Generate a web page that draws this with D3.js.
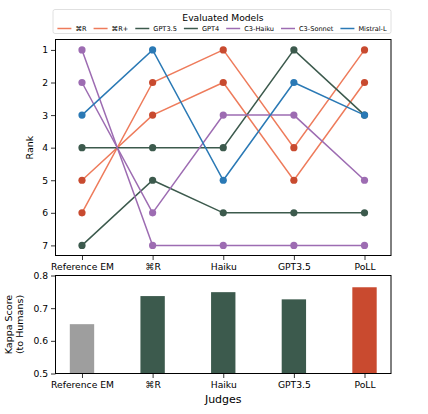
<!DOCTYPE html>
<html>
<head>
<meta charset="utf-8">
<script src="https://cdn.jsdelivr.net/npm/d3@7"></script>
<style>
  body { margin: 0; background: #fff; }
  svg { font-family: "DejaVu Sans", sans-serif; }
</style>
</head>
<body>
<script>
// judges on the x axis
const judges = ["Reference EM", "\u2318R", "Haiku", "GPT3.5", "PoLL"];

// evaluated models (legend order)
const models = ["\u2318R", "\u2318R+", "GPT3.5", "GPT4", "C3-Haiku", "C3-Sonnet", "Mistral-L"];

// rank each judge gives each model
const rankCmdR = [5, 3, 2, 5, 2];
const rankCmdRPlus = [6, 2, 1, 4, 1];
const rankGPT35 = [7, 5, 6, 6, 6];
const rankGPT4 = [4, 4, 4, 1, 3];
const rankC3Haiku = [1, 7, 7, 7, 7];
const rankC3Sonnet = [2, 6, 3, 3, 5];
const rankMistralL = [3, 1, 5, 2, 3];

const rankTicks = [1, 2, 3, 4, 5, 6, 7];

// kappa score of each judge vs humans
const kappa = [0.651, 0.737, 0.749, 0.727, 0.764];
const kappaTicks = [0.5, 0.6, 0.7, 0.8];

init();

function init() {
  const width = 428, height = 414;
  const lineColors = ["#ee7b5b", "#ee7b5b", "#3c5a4d", "#3c5a4d", "#9d6cb2", "#9d6cb2", "#2a79b5"];
  const dotColors  = ["#c84a2f", "#c84a2f", "#3c5a4d", "#3c5a4d", "#9d6cb2", "#9d6cb2", "#2a79b5"];
  const barColors  = ["#9e9e9e", "#3c5a4d", "#3c5a4d", "#3c5a4d", "#c94a2f"];

  const ranks = [rankCmdR, rankCmdRPlus, rankGPT35, rankGPT4, rankC3Haiku, rankC3Sonnet, rankMistralL];

  let svg = d3.select("body")
              .append("svg")
              .attr("width", width)
              .attr("height", height);

  const left = 55.5, right = 391;
  const top1 = {t: 39.5, b: 255.5};
  const top2 = {t: 275.5, b: 373.5};

  let x = d3.scalePoint().domain(judges).range([left, right]).padding(0.375);

  // ---- rank chart
  let y = d3.scaleLinear().domain([0.68, 7.31]).range([top1.t, top1.b]);

  let g1 = svg.append("g");

  let lineGen = d3.line().x((d, i) => x(judges[i])).y(d => y(d));

  ranks.forEach((r, k) => {
    g1.append("path")
      .attr("d", lineGen(r))
      .attr("fill", "none")
      .attr("stroke", lineColors[k])
      .attr("stroke-width", 1.5);
  });
  ranks.forEach((r, k) => {
    g1.selectAll(null)
      .data(r)
      .enter()
      .append("circle")
      .attr("cx", (d, i) => x(judges[i]))
      .attr("cy", d => y(d))
      .attr("r", 3.6)
      .attr("fill", dotColors[k]);
  });

  g1.append("g")
    .attr("transform", `translate(0,${top1.b})`)
    .call(d3.axisBottom(x).tickSizeOuter(0).tickSize(4.5).tickPadding(3))
    .call(styleAxis);
  g1.append("g")
    .attr("transform", `translate(${left},0)`)
    .call(d3.axisLeft(y).tickValues(rankTicks).tickFormat(d3.format("d")).tickSize(4.5).tickPadding(3))
    .call(styleAxis);

  g1.append("rect")
    .attr("x", left).attr("y", top1.t)
    .attr("width", right - left).attr("height", top1.b - top1.t)
    .attr("fill", "none").attr("stroke", "#000").attr("stroke-width", 1);

  g1.append("text")
    .attr("transform", `translate(33,${(top1.t + top1.b) / 2}) rotate(-90)`)
    .attr("text-anchor", "middle")
    .attr("font-size", 9.5)
    .text("Rank");

  // legend
  let leg = svg.append("g");
  leg.append("rect")
    .attr("x", 53).attr("y", 9.5).attr("width", 338).attr("height", 24)
    .attr("rx", 2).attr("fill", "#fff").attr("stroke", "#d8d8d8").attr("stroke-width", 0.8);
  leg.append("text")
    .attr("x", 223).attr("y", 20.5).attr("text-anchor", "middle")
    .attr("font-size", 9.2).text("Evaluated Models");

  // lay entries out from their measured text widths
  const handleW = 14, handleGap = 4, entryGap = 7;
  let entries = models.map((m, k) => {
    let eg = leg.append("g");
    eg.append("line")
      .attr("x1", 0).attr("x2", handleW)
      .attr("y1", 28.5).attr("y2", 28.5)
      .attr("stroke", lineColors[k]).attr("stroke-width", 1.5);
    let t = eg.append("text")
      .attr("x", handleW + handleGap).attr("y", 30.8)
      .attr("font-size", 6.6).text(m);
    return {g: eg, w: handleW + handleGap + t.node().getComputedTextLength()};
  });
  let total = d3.sum(entries, e => e.w) + entryGap * (entries.length - 1);
  let cx = 222 - total / 2;
  entries.forEach(e => {
    e.g.attr("transform", `translate(${cx},0)`);
    cx += e.w + entryGap;
  });

  // ---- kappa chart
  let yk = d3.scaleLinear().domain([0.5, 0.8]).range([top2.b, top2.t]);
  const barW = x.step() * 0.345;

  let g2 = svg.append("g");
  g2.selectAll(".bar")
    .data(kappa)
    .enter()
    .append("rect")
    .attr("class", "bar")
    .attr("x", (d, i) => x(judges[i]) - barW / 2)
    .attr("y", d => yk(d))
    .attr("width", barW)
    .attr("height", d => yk(0.5) - yk(d))
    .attr("fill", (d, i) => barColors[i]);

  g2.append("g")
    .attr("transform", `translate(0,${top2.b})`)
    .call(d3.axisBottom(x).tickSizeOuter(0).tickSize(4.5).tickPadding(3))
    .call(styleAxis);
  g2.append("g")
    .attr("transform", `translate(${left},0)`)
    .call(d3.axisLeft(yk).tickValues(kappaTicks).tickFormat(d3.format(".1f")).tickSize(4.5).tickPadding(3))
    .call(styleAxis);

  g2.append("rect")
    .attr("x", left).attr("y", top2.t)
    .attr("width", right - left).attr("height", top2.b - top2.t)
    .attr("fill", "none").attr("stroke", "#000").attr("stroke-width", 1);

  let yl = g2.append("text")
    .attr("transform", `translate(12,${(top2.t + top2.b) / 2}) rotate(-90)`)
    .attr("text-anchor", "middle")
    .attr("font-size", 9.5);
  yl.append("tspan").attr("x", 0).attr("dy", 0).text("Kappa Score");
  yl.append("tspan").attr("x", 0).attr("dy", 11).text("(to Humans)");

  g2.append("text")
    .attr("x", (left + right) / 2).attr("y", 403)
    .attr("text-anchor", "middle")
    .attr("font-size", 11)
    .text("Judges");
}

function styleAxis(sel) {
  sel.select(".domain").remove();
  sel.selectAll(".tick line").attr("stroke", "#000").attr("stroke-width", 0.8);
  sel.selectAll(".tick text").attr("font-size", 9.2).attr("fill", "#000")
     .attr("font-family", "DejaVu Sans, sans-serif");
}
</script>
</body>
</html>
